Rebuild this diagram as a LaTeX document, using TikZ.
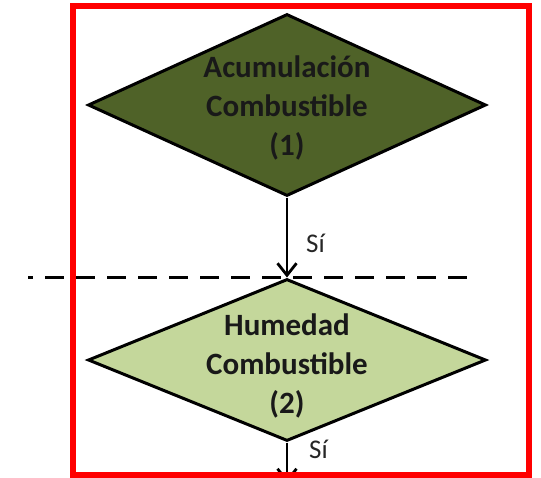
\documentclass[tikz,border=0pt]{standalone}
\usepackage{fontspec}
\setmainfont{Carlito}
\usepackage{xcolor}
\usepackage{tikz}
\usetikzlibrary{shapes.geometric,arrows.meta,positioning}
\definecolor{olivaosc}{RGB}{79,98,40}
\definecolor{olivaclaro}{RGB}{196,215,155}
\tikzset{
  rombo/.style={diamond,draw=black,line width=3pt,minimum width=398pt,inner sep=0pt},
  texto/.style={align=center,font=\fontsize{31}{39}\selectfont\bfseries,text=black!90},
  flecha/.style={-{Straight Barb[length=12pt,width=19pt]},line width=2.8pt},
  si/.style={anchor=base west,inner sep=0pt,font=\fontsize{27}{30}\selectfont,text=black!85},
  corte/.style={dash pattern=on 19pt off 12pt,dash phase=14pt,line width=3pt},
  marco/.style={draw=red,line width=6pt}
}

\begin{document}
\begin{tikzpicture}[x=1pt,y=-1pt]
\useasboundingbox (0,0) rectangle (541,477);
% rombos de decision
\node[rombo,fill=olivaosc,minimum height=182pt] (acum) at (287,105) {};
\node[texto,yshift=-3pt] (acumtxt) at (acum) {Acumulación\\Combustible\\(1)};
\node[rombo,fill=olivaclaro,minimum height=162pt] (hum) at (287,360) {};
\node[texto,yshift=-6pt] (humtxt) at (hum) {Humedad\\Combustible\\(2)};
% flechas
\coordinate (fin) at (287,483);
\draw[flecha] (acum.south) -- (hum.north);
\draw[flecha] (hum.south) -- (fin);
\node[si] (si1) at (306,252) {Sí};
\node[si] (si2) at (309,458) {Sí};
% linea de corte
\coordinate (corteI) at (28,277);
\coordinate (corteD) at (478,277);
\draw[corte] (corteI) -- (corteD);
% marco
\draw[marco] (73,5.5) rectangle (528.5,474.5);
\end{tikzpicture}
\end{document}
